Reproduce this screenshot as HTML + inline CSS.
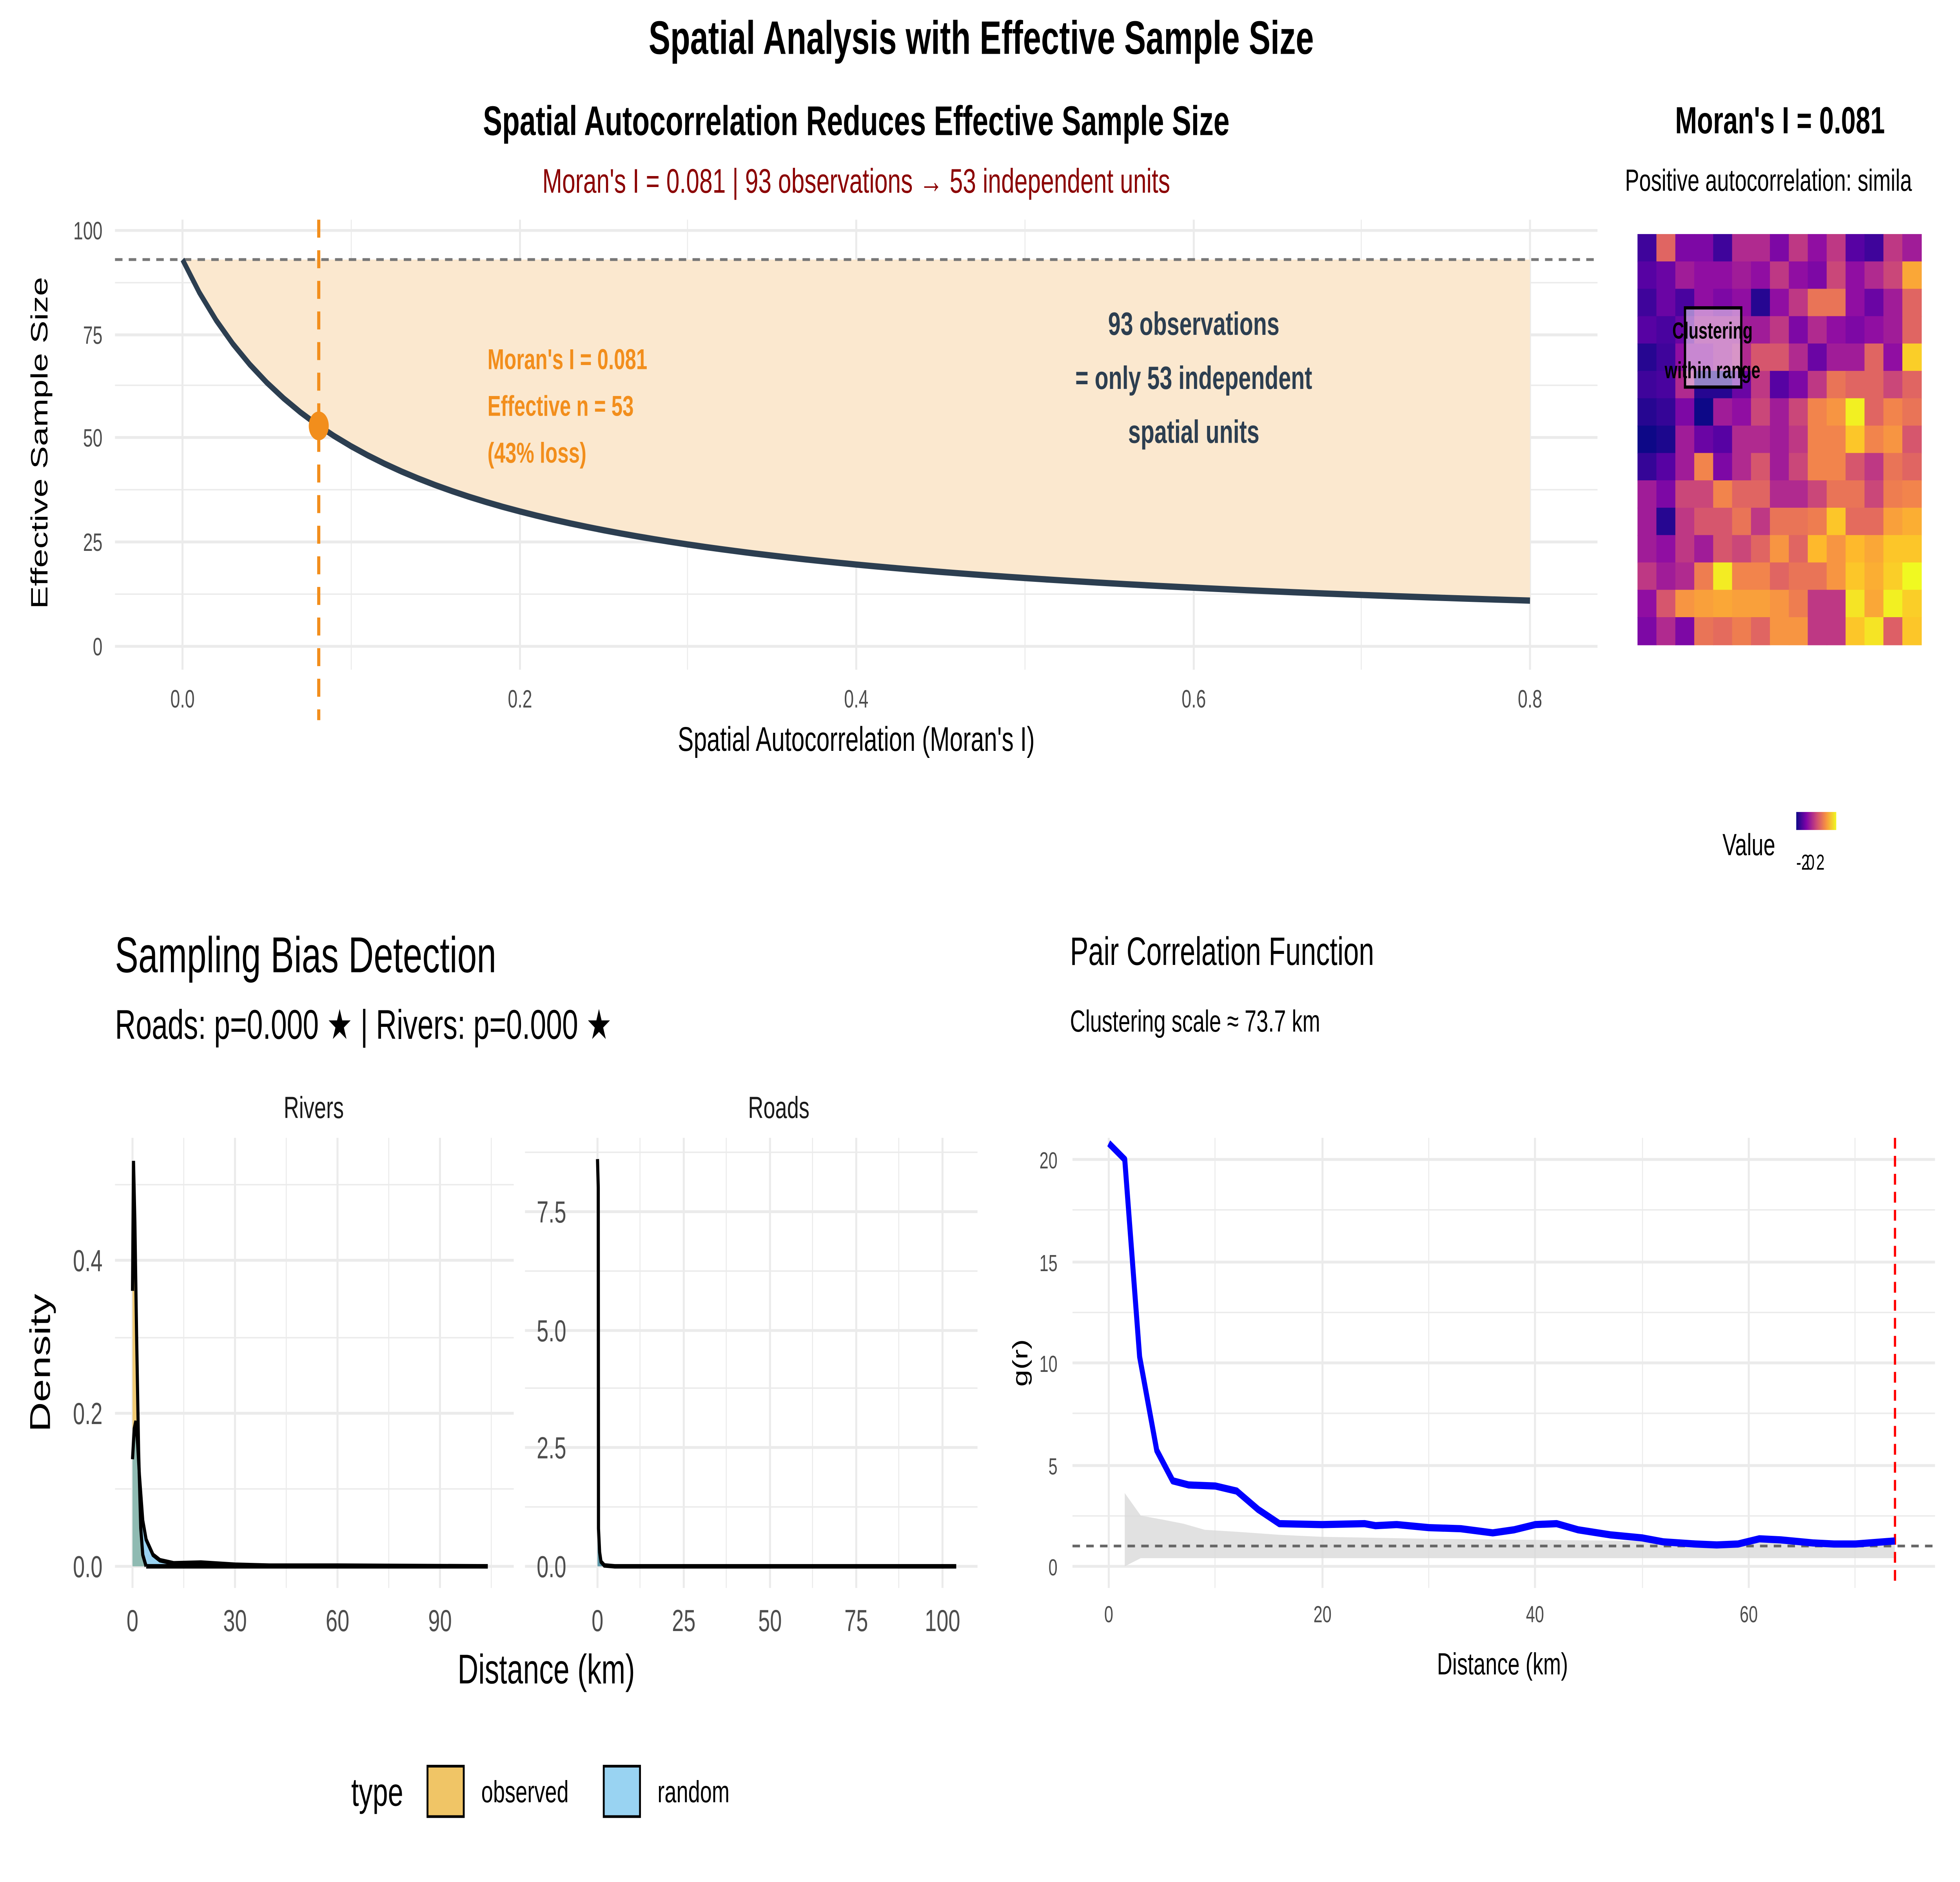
<!DOCTYPE html>
<html><head><meta charset="utf-8"><style>
html,body{margin:0;padding:0;background:#fff;overflow:hidden;width:100%;height:100%;}
svg{display:block;font-family:"Liberation Sans",sans-serif;width:100vw;height:100vh;}
</style></head><body>
<svg id="s" viewBox="0 0 1568 1045.33" preserveAspectRatio="none" xmlns="http://www.w3.org/2000/svg">
<rect width="1568" height="1046" fill="#fff"/>
<g id="g"></g>
<text x="785" y="30" font-size="26" font-weight="bold" text-anchor="middle">Spatial Analysis with Effective Sample Size</text>
<text x="685" y="75" font-size="23" font-weight="bold" text-anchor="middle">Spatial Autocorrelation Reduces Effective Sample Size</text>
<text x="685" y="107" font-size="19" fill="#8b0000" text-anchor="middle">Moran's I = 0.081 | 93 observations → 53 independent units</text>
<g font-size="14" fill="#4d4d4d" text-anchor="end">
<text x="82" y="133">100</text><text x="82" y="191">75</text><text x="82" y="248">50</text><text x="82" y="306">25</text><text x="82" y="364">0</text>
</g>
<g font-size="14" fill="#4d4d4d" text-anchor="middle">
<text x="146" y="393">0.0</text><text x="416" y="393">0.2</text><text x="685" y="393">0.4</text><text x="955" y="393">0.6</text><text x="1224" y="393">0.8</text>
</g>
<text x="685" y="417" font-size="19" text-anchor="middle">Spatial Autocorrelation (Moran's I)</text>
<text transform="translate(38,246) rotate(-90)" font-size="19" text-anchor="middle">Effective Sample Size</text>
<g font-size="16" font-weight="bold" fill="#f28e1c">
<text x="390" y="205">Moran's I = 0.081</text><text x="390" y="231">Effective n = 53</text><text x="390" y="257">(43% loss)</text>
</g>
<g font-size="18" font-weight="bold" fill="#2c3e50" text-anchor="middle">
<text x="955" y="186">93 observations</text><text x="955" y="216">= only 53 independent</text><text x="955" y="246">spatial units</text>
</g>
<text x="1424" y="74" font-size="21" font-weight="bold" text-anchor="middle">Moran's I = 0.081</text>
<text x="1300" y="106" font-size="17">Positive autocorrelation: simila</text>
<text x="1378" y="475" font-size="17">Value</text>
<defs><linearGradient id="pl" x1="0" x2="1"><stop offset="0" stop-color="#0d0887"/><stop offset="0.25" stop-color="#7e03a8"/><stop offset="0.5" stop-color="#cc4778"/><stop offset="0.75" stop-color="#f89540"/><stop offset="1" stop-color="#f0f921"/></linearGradient></defs>
<rect x="1437" y="451" width="32" height="10" fill="url(#pl)"/>
<text x="1437" y="483" font-size="12">-2</text><text x="1445" y="483" font-size="12">0</text><text x="1453" y="483" font-size="12">2</text>
<text x="92" y="540" font-size="28">Sampling Bias Detection</text>
<text x="92" y="577" font-size="23">Roads: p=0.000 ★ | Rivers: p=0.000 ★</text>
<text x="251" y="621" font-size="17" fill="#1a1a1a" text-anchor="middle">Rivers</text>
<text x="623" y="621" font-size="17" fill="#1a1a1a" text-anchor="middle">Roads</text>
<g font-size="17" fill="#4d4d4d" text-anchor="end">
<text x="82" y="876">0.0</text><text x="82" y="791">0.2</text><text x="82" y="706">0.4</text>
<text x="453" y="876">0.0</text><text x="453" y="810">2.5</text><text x="453" y="745">5.0</text><text x="453" y="679">7.5</text>
</g>
<g font-size="17" fill="#4d4d4d" text-anchor="middle">
<text x="106" y="906">0</text><text x="188" y="906">30</text><text x="270" y="906">60</text><text x="352" y="906">90</text>
<text x="478" y="906">0</text><text x="547" y="906">25</text><text x="616" y="906">50</text><text x="685" y="906">75</text><text x="754" y="906">100</text>
</g>
<text x="437" y="935" font-size="23" text-anchor="middle">Distance (km)</text>
<text transform="translate(40,757) rotate(-90)" font-size="23" text-anchor="middle">Density</text>
<text x="281" y="1003" font-size="22">type</text>
<rect x="342" y="981" width="29" height="28" fill="#f0c566" stroke="#000" stroke-width="1.5"/>
<text x="385" y="1001" font-size="17">observed</text>
<rect x="483" y="981" width="29" height="28" fill="#99d3f2" stroke="#000" stroke-width="1.5"/>
<text x="526" y="1001" font-size="17">random</text>
<text x="856" y="536" font-size="22">Pair Correlation Function</text>
<text x="856" y="573" font-size="17">Clustering scale ≈ 73.7 km</text>
<g font-size="13" fill="#4d4d4d" text-anchor="end">
<text x="846" y="875">0</text><text x="846" y="819">5</text><text x="846" y="762">10</text><text x="846" y="706">15</text><text x="846" y="649">20</text>
</g>
<g font-size="13" fill="#4d4d4d" text-anchor="middle">
<text x="887" y="901">0</text><text x="1058" y="901">20</text><text x="1228" y="901">40</text><text x="1399" y="901">60</text>
</g>
<text x="1202" y="930" font-size="17" text-anchor="middle">Distance (km)</text>
<text transform="translate(822,757) rotate(-90)" font-size="17" text-anchor="middle">g(r)</text>
</svg>
<script>
var NS="http://www.w3.org/2000/svg",G=document.getElementById('g');
function el(t,a){var e=document.createElementNS(NS,t);for(var k in a)e.setAttribute(k,a[k]);G.appendChild(e);return e;}
function line(x1,y1,x2,y2,c,w,d){var o={x1:x1,y1:y1,x2:x2,y2:y2,stroke:c,'stroke-width':w};if(d)o['stroke-dasharray']=d;return el('line',o);}
var GR='#ebebeb';
[281,550,820,1089].forEach(function(x){line(x,122,x,372,GR,0.8);});
[330,272,214,157].forEach(function(y){line(92,y,1278,y,GR,0.8);});
[146,416,685,955,1224].forEach(function(x){line(x,122,x,372,GR,1.6);});
[359,301,243,186,128].forEach(function(y){line(92,y,1278,y,GR,1.6);});
function X(v){return 146+1347.5*v;}function Y(n){return 359-2.31*n;}
var pts=[];for(var i=0;i<=80;i++){var v=i/100;pts.push([X(v),Y(93/(1+9.32*v))]);}
var d='M'+X(0)+','+Y(93)+' L'+X(0.8)+','+Y(93);for(i=pts.length-1;i>=0;i--)d+=' L'+pts[i][0]+','+pts[i][1];
el('path',{d:d+'Z',fill:'#fbe8cf'});
line(92,Y(93),1278,Y(93),'#777',1.6,'6,5');
el('polyline',{points:pts.map(function(p){return p.join(',')}).join(' '),fill:'none',stroke:'#2c3e50','stroke-width':3.5});
line(255,122,255,400,'#f28e1c',2.5,'10,7');
el('ellipse',{cx:255,cy:Y(53),rx:8,ry:8,fill:'#f28e1c'});
var H=[[.1,.6,.25,.25,.1,.4,.4,.25,.45,.3,.45,.15,.1,.45,.35],[.15,.2,.35,.3,.3,.35,.3,.45,.3,.25,.5,.3,.4,.5,.8],[.1,.2,.12,.3,.25,.3,.05,.3,.45,.65,.65,.3,.2,.35,.6],[.15,.12,.2,.35,.35,.35,.35,.45,.25,.4,.3,.25,.3,.35,.6],[.05,.1,.3,.3,.35,.4,.55,.55,.4,.2,.35,.35,.6,.3,.9],[.1,.12,.4,.05,.05,.2,.45,.15,.25,.45,.65,.6,.6,.5,.6],[.05,.08,.25,0,.35,.3,.5,.35,.5,.7,.75,.98,.6,.7,.65],[0,.03,.35,.2,.15,.4,.4,.35,.45,.7,.7,.88,.7,.75,.55],[.08,.15,.35,.7,.25,.4,.55,.35,.5,.7,.7,.55,.45,.65,.6],[.35,.25,.5,.5,.7,.6,.6,.4,.4,.5,.65,.65,.5,.68,.7],[.35,.05,.45,.55,.55,.65,.45,.65,.65,.68,.88,.62,.62,.78,.82],[.35,.3,.45,.35,.55,.5,.6,.75,.6,.85,.75,.85,.8,.88,.88],[.45,.35,.4,.68,.97,.7,.7,.6,.65,.65,.75,.88,.82,.9,1],[.3,.55,.75,.78,.8,.78,.78,.75,.68,.45,.45,.95,.8,.98,.9],[.25,.4,.25,.65,.62,.68,.6,.75,.75,.45,.45,.88,.95,.58,.88]];
var PL=[[13,8,135],[84,2,163],[139,10,165],[185,50,137],[219,92,104],[244,136,73],[254,188,43],[240,249,33]];
function pc(t){t=Math.max(0,Math.min(1,t))*7;var i=Math.min(6,Math.floor(t)),f=t-i,a=PL[i],b=PL[i+1];return 'rgb('+[0,1,2].map(function(k){return Math.round(a[k]+(b[k]-a[k])*f)}).join(',')+')';}
var cw=227/15,ch=228/15;
for(var r=0;r<15;r++)for(var c=0;c<15;c++)el('rect',{x:1310+c*cw,y:130+r*ch,width:cw+0.4,height:ch+0.4,fill:pc(H[r][c])});
el('rect',{x:1348,y:171,width:45,height:44,fill:'rgba(255,255,255,0.5)',stroke:'#000','stroke-width':1.8});
var t1=el('text',{x:1370,y:188,'font-size':13,'font-weight':'bold','text-anchor':'middle'});t1.textContent='Clustering';
var t2=el('text',{x:1370,y:210,'font-size':13,'font-weight':'bold','text-anchor':'middle'});t2.textContent='within range';
function grid(x0,x1,y0,y1,vmaj,vmin,hmaj,hmin){vmin.forEach(function(x){line(x,y0,x,y1,GR,0.8)});hmin.forEach(function(y){line(x0,y,x1,y,GR,0.8)});vmaj.forEach(function(x){line(x,y0,x,y1,GR,1.6)});hmaj.forEach(function(y){line(x0,y,x1,y,GR,1.6)});}
grid(92,411,632,882,[106,188,270,352],[147,229,311,393],[870,785,700],[827,743,658]);
grid(420,782,632,882,[478,547,616,685,754],[512,581,650,719],[870,804,739,673],[837,771,706,640]);
grid(858,1548,632,882,[887,1058,1228,1399],[972,1143,1314,1484],[870,814,757,701,644],[842,785,729,672]);
function RX(k){return 106+2.733*k;}function RY(v){return 870-425*v;}
var obs=[[0,.36],[0.3,.53],[0.7,.45],[1.2,.3],[1.8,.15],[2.4,.05],[3,.015],[4,0]];
var rnd=[[0,.14],[0.5,.18],[1,.19],[1.5,.16],[2,.12],[3,.06],[4,.035],[6,.015],[8,.008],[12,.004],[20,.005],[30,.002],[40,.001],[60,.001],[104,0]];
function path(a,fx,fy){return a.map(function(p,i){return (i?'L':'M')+fx(p[0]).toFixed(1)+','+fy(p[1]).toFixed(1)}).join(' ');}
el('path',{d:path(rnd,RX,RY)+' L'+RX(104)+','+RY(0)+' L'+RX(0)+','+RY(0)+'Z',fill:'#99d3f2'});
el('path',{d:path(obs,RX,RY)+' L'+RX(0)+','+RY(0)+'Z',fill:'#f0c566',opacity:0.9});
el('path',{d:'M'+RX(0)+','+RY(.14)+' L'+RX(1)+','+RY(.19)+' L'+RX(2)+','+RY(.11)+' L'+RX(3)+','+RY(.02)+' L'+RX(4)+','+RY(0)+' L'+RX(0)+','+RY(0)+'Z',fill:'#8fbab2'});
line(RX(4),RY(0),RX(104),RY(0),'#000',2.5);
el('path',{d:path(obs,RX,RY),fill:'none',stroke:'#000','stroke-width':2.5});
el('path',{d:path(rnd,RX,RY),fill:'none',stroke:'#000','stroke-width':2.5});
function QX(k){return 478+2.76*k;}function QY(v){return 870-26.3*v;}
var ro=[[0,8.6],[0.2,8],[0.3,0.8],[0.6,0.3],[1,0.1],[2,0.02],[5,0],[104,0]];
el('path',{d:'M'+QX(0)+','+QY(0.55)+' L'+QX(0.3)+','+QY(0.5)+' L'+QX(1)+','+QY(0.1)+' L'+QX(2)+','+QY(0)+' L'+QX(0)+','+QY(0)+'Z',fill:'#5f98a8'});
el('path',{d:path(ro,QX,QY),fill:'none',stroke:'#000','stroke-width':2.5});
function PX(k){return 887+8.533*k;}function PY(v){return 870-11.3*v;}
var env=[[1.5,3.6],[3,2.5],[5,2.3],[7,2.1],[9,1.8],[12,1.7],[16,1.55],[20,1.45],[30,1.35],[40,1.3],[50,1.25],[60,1.2],[73.7,1.15]];
var ed=path(env,PX,PY);for(i=env.length-1;i>=0;i--)ed+=' L'+PX(env[i][0])+','+PY(i==0?0:0.4);
el('path',{d:ed+'Z',fill:'#d9d9d9',opacity:0.8});
line(858,PY(1),1548,PY(1),'#666',1.5,'6,5');
line(1516,632,1516,882,'#ff0000',1.8,'6,4');
var g=[[0,20.8],[1.5,20],[2.9,10.3],[4.5,5.7],[6,4.2],[7.5,4.0],[10,3.95],[12,3.7],[14,2.8],[16,2.1],[20,2.05],[24,2.1],[25,2.0],[27,2.05],[30,1.9],[33,1.85],[36,1.65],[38,1.8],[40,2.05],[42,2.1],[44,1.8],[47,1.55],[50,1.4],[52,1.2],[55,1.1],[57,1.05],[59,1.1],[61,1.35],[63,1.3],[66,1.15],[68,1.1],[70,1.1],[73.7,1.25]];
el('path',{d:path(g,PX,PY),fill:'none',stroke:'#0000ff','stroke-width':4,'stroke-linejoin':'round'});
</script>
</body></html>
